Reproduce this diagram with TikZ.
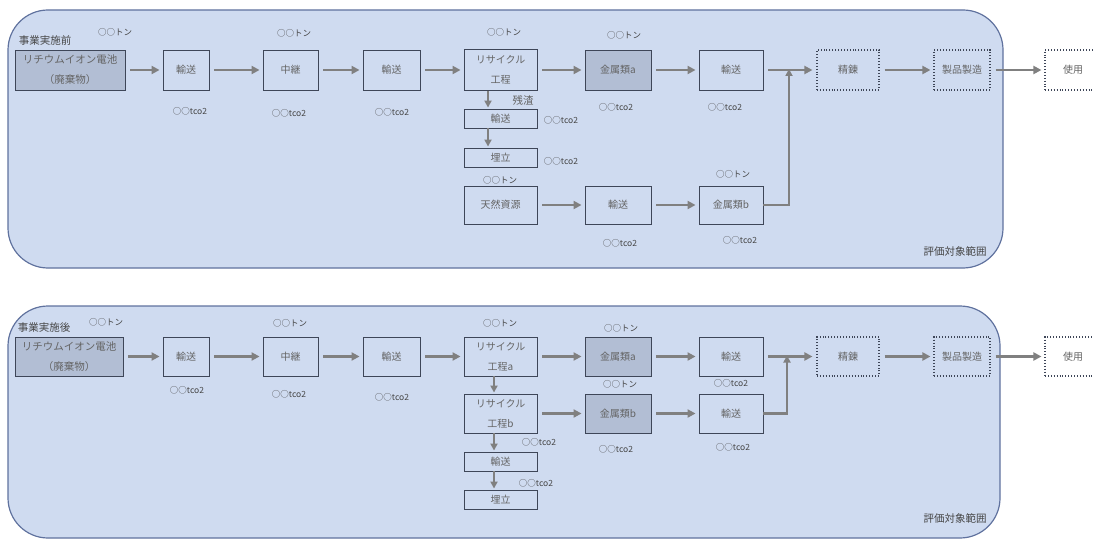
\documentclass[tikz,border=0pt]{standalone}
\usepackage{fontspec}
\setmainfont{Noto Sans CJK JP}
\usetikzlibrary{arrows.meta}
\definecolor{panelf}{RGB}{207,219,240}
\definecolor{panelc}{RGB}{96,114,158}
\definecolor{boxc}{RGB}{62,70,88}
\definecolor{darkf}{RGB}{178,190,212}
\definecolor{arrc}{RGB}{128,128,128}
\definecolor{txtc}{RGB}{100,100,100}
\definecolor{lblc}{RGB}{70,70,70}
\begin{document}
\begin{tikzpicture}[x=1pt,y=-1pt,
  panel/.style={draw=panelc,fill=panelf,line width=1.2pt,rounded corners=40pt},
  box/.style={draw=boxc,line width=0.9pt,inner sep=0pt,font=\fontsize{10}{20}\selectfont,text=txtc,align=center},
  dbox/.style={box,fill=darkf},
  dotbox/.style={box,dotted,line width=1.1pt},
  arr/.style={draw=arrc,line width=2.5pt,-{Triangle[length=8pt,width=8pt]},shorten <=5pt,shorten >=3pt},
  varr/.style={draw=arrc,line width=2.2pt,-{Triangle[length=7pt,width=7pt]},shorten >=1pt},
  lbl/.style={font=\fontsize{8.5}{9}\selectfont,text=lblc,inner sep=0pt},
  ttl/.style={font=\fontsize{10.5}{11}\selectfont,text=lblc,inner sep=0pt}]
\useasboundingbox (0,0) rectangle (1094,540);

% ===== top panel =====
\draw[panel] (8,10) rectangle (1003,268);
\node[ttl] (tA) at (45,41) {事業実施前};
\node[ttl] (eA) at (955,251) {評価対象範囲};

\node[dbox,minimum width=110pt,minimum height=40pt,font=\fontsize{10.5}{20}\selectfont] (liA) at (70,70) {リチウムイオン電池\\（廃棄物）};
\node[box,minimum width=46pt,minimum height=40pt] (t1A) at (186,70) {輸送};
\node[box,minimum width=55pt,minimum height=40pt] (rlA) at (290.5,70) {中継};
\node[box,minimum width=57pt,minimum height=40pt] (t2A) at (391.5,70) {輸送};
\node[box,minimum width=73pt,minimum height=41pt] (rcA) at (500.5,70) {リサイクル\\工程};
\node[dbox,minimum width=66pt,minimum height=40pt] (maA) at (618,70) {金属類a};
\node[box,minimum width=64pt,minimum height=40pt] (t3A) at (731,70) {輸送};
\node[dotbox,minimum width=62pt,minimum height=40pt] (rfA) at (848,70) {精錬};
\node[dotbox,minimum width=56pt,minimum height=40pt] (mfA) at (962,70) {製品製造};
\node[dotbox,minimum width=56pt,minimum height=40pt] (usA) at (1073,70) {使用};
\node[box,minimum width=73pt,minimum height=19pt] (tsA) at (500.5,118.5) {輸送};
\node[box,minimum width=73pt,minimum height=19pt] (lfA) at (500.5,157.5) {埋立};
\node[box,minimum width=73pt,minimum height=38pt] (nrA) at (500.5,205) {天然資源};
\node[box,minimum width=66pt,minimum height=38pt] (t5A) at (618,205) {輸送};
\node[box,minimum width=64pt,minimum height=38pt] (mbA) at (731,205) {金属類b};
\coordinate (mgA) at (789,70);

\draw[arr] (liA) -- (t1A);
\draw[arr] (t1A) -- (rlA);
\draw[arr] (rlA) -- (t2A);
\draw[arr] (t2A) -- (rcA);
\draw[arr] (rcA) -- (maA);
\draw[arr] (maA) -- (t3A);
\draw[arr,shorten >=4pt] (t3A) -- (rfA);
\draw[arr] (rfA) -- (mfA);
\draw[arr] (mfA) -- (usA);
\draw[arr] (nrA) -- (t5A);
\draw[arr] (t5A) -- (mbA);
\draw[varr] (mbA.east) -| ([yshift=2pt]mgA);
\draw[varr] ([xshift=-12.5pt]rcA.south) -- ([xshift=-12.5pt]tsA.north);
\draw[varr] ([xshift=-12.5pt]tsA.south) -- ([xshift=-12.5pt]lfA.north);

\node[ttl,text=txtc] (zsA) at (523,100) {残渣};
\node[lbl] (n1A) at (115,32) {○○トン};
\node[lbl] (n2A) at (294,33) {○○トン};
\node[lbl] (n3A) at (504,32) {○○トン};
\node[lbl] (n4A) at (624,35) {○○トン};
\node[lbl] (n5A) at (500,180) {○○トン};
\node[lbl] (n6A) at (733,174) {○○トン};
\node[lbl] (c1A) at (190,111) {○○tco2};
\node[lbl] (c2A) at (289,113) {○○tco2};
\node[lbl] (c3A) at (392,112) {○○tco2};
\node[lbl] (c4A) at (616,107) {○○tco2};
\node[lbl] (c5A) at (725,107) {○○tco2};
\node[lbl] (c6A) at (561,120) {○○tco2};
\node[lbl] (c7A) at (561,161) {○○tco2};
\node[lbl] (c8A) at (620,243) {○○tco2};
\node[lbl] (c9A) at (740,240) {○○tco2};

% ===== bottom panel =====
\draw[panel] (8,306) rectangle (1000,538);
\node[ttl] (tB) at (44,328) {事業実施後};
\node[ttl] (eB) at (955,518) {評価対象範囲};

\node[dbox,minimum width=108pt,minimum height=39pt,font=\fontsize{10.5}{20}\selectfont] (liB) at (69,356.5) {リチウムイオン電池\\（廃棄物）};
\node[box,minimum width=46pt,minimum height=39pt] (t1B) at (186,356.5) {輸送};
\node[box,minimum width=55pt,minimum height=39pt] (rlB) at (290.5,356.5) {中継};
\node[box,minimum width=57pt,minimum height=39pt] (t2B) at (391.5,356.5) {輸送};
\node[box,minimum width=73pt,minimum height=39pt] (raB) at (500.5,356.5) {リサイクル\\工程a};
\node[box,minimum width=73pt,minimum height=39pt] (rbB) at (500.5,413.5) {リサイクル\\工程b};
\node[box,minimum width=73pt,minimum height=19pt] (tsB) at (500.5,461.5) {輸送};
\node[box,minimum width=73pt,minimum height=19pt] (lfB) at (500.5,499.5) {埋立};
\node[dbox,minimum width=66pt,minimum height=39pt] (maB) at (618,356.5) {金属類a};
\node[dbox,minimum width=66pt,minimum height=39pt] (mbB) at (618,413.5) {金属類b};
\node[box,minimum width=64pt,minimum height=39pt] (t3B) at (731,356.5) {輸送};
\node[box,minimum width=64pt,minimum height=39pt] (t4B) at (731,413.5) {輸送};
\node[dotbox,minimum width=62pt,minimum height=39pt] (rfB) at (848,356.5) {精錬};
\node[dotbox,minimum width=56pt,minimum height=39pt] (mfB) at (962,356.5) {製品製造};
\node[dotbox,minimum width=56pt,minimum height=39pt] (usB) at (1073,356.5) {使用};
\coordinate (mgB) at (787,356.5);

\draw[arr] (liB) -- (t1B);
\draw[arr] (t1B) -- (rlB);
\draw[arr] (rlB) -- (t2B);
\draw[arr] (t2B) -- (raB);
\draw[arr] (raB) -- (maB);
\draw[arr] (maB) -- (t3B);
\draw[arr] (rbB) -- (mbB);
\draw[arr] (mbB) -- (t4B);
\draw[arr,shorten >=4pt] (t3B) -- (rfB);
\draw[arr] (rfB) -- (mfB);
\draw[arr] (mfB) -- (usB);
\draw[varr] (t4B.east) -| ([yshift=2pt]mgB);
\draw[varr] ([xshift=-6.5pt]raB.south) -- ([xshift=-6.5pt]rbB.north);
\draw[varr] ([xshift=-6.5pt]rbB.south) -- ([xshift=-6.5pt]tsB.north);
\draw[varr] ([xshift=-6.5pt]tsB.south) -- ([xshift=-6.5pt]lfB.north);

\node[lbl] (n1B) at (106,322) {○○トン};
\node[lbl] (n2B) at (290,323) {○○トン};
\node[lbl] (n3B) at (500,323) {○○トン};
\node[lbl] (n4B) at (621,328) {○○トン};
\node[lbl] (n5B) at (620,384) {○○トン};
\node[lbl] (c1B) at (187,390) {○○tco2};
\node[lbl] (c2B) at (289,394) {○○tco2};
\node[lbl] (c3B) at (392,397) {○○tco2};
\node[lbl] (c4B) at (731,383) {○○tco2};
\node[lbl] (c5B) at (733,447) {○○tco2};
\node[lbl] (c6B) at (616,449) {○○tco2};
\node[lbl] (c7B) at (539,442) {○○tco2};
\node[lbl] (c8B) at (536,483) {○○tco2};
\end{tikzpicture}
\end{document}
